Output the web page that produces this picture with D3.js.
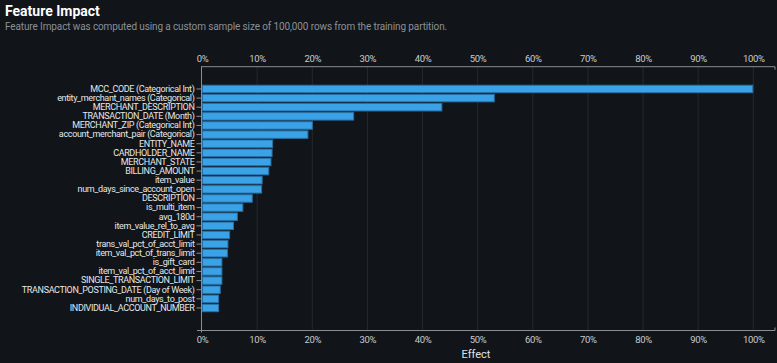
<!DOCTYPE html>
<html><head><meta charset="utf-8">
<script src="https://cdn.jsdelivr.net/npm/d3@7/dist/d3.min.js"></script>
<style>
html,body{margin:0;padding:0;background:#111418;}
svg{display:block;font-family:Roboto,"Noto Sans",sans-serif;}
</style></head>
<body><svg id="c" width="777" height="363"></svg>
<script>
const features = ["MCC_CODE (Categorical Int)","entity_merchant_names (Categorical)","MERCHANT_DESCRIPTION","TRANSACTION_DATE (Month)","MERCHANT_ZIP (Categorical Int)","account_merchant_pair (Categorical)","ENTITY_NAME","CARDHOLDER_NAME","MERCHANT_STATE","BILLING_AMOUNT","item_value","num_days_since_account_open","DESCRIPTION","is_multi_item","avg_180d","item_value_rel_to_avg","CREDIT_LIMIT","trans_val_pct_of_acct_limit","item_val_pct_of_trans_limit","is_gift_card","item_val_pct_of_acct_limit","SINGLE_TRANSACTION_LIMIT","TRANSACTION_POSTING_DATE (Day of Week)","num_days_to_post","INDIVIDUAL_ACCOUNT_NUMBER"];
const impact = [1.000,0.531,0.436,0.276,0.201,0.193,0.129,0.128,0.126,0.122,0.110,0.109,0.092,0.075,0.065,0.058,0.051,0.048,0.047,0.037,0.037,0.037,0.034,0.031,0.031];
const tickValues = [0,0.1,0.2,0.3,0.4,0.5,0.6,0.7,0.8,0.9,1.0];
const title = "Feature Impact";
const subtitle = "Feature Impact was computed using a custom sample size of 100,000 rows from the training partition.";
const xLabel = "Effect";

const svg = d3.select("#c");
const x0 = 202, x100 = 753.3, topY = 66.7, botY = 330.5;
const x = d3.scaleLinear().domain([0,1]).range([x0,x100]);
const y = d3.scaleBand().domain(features).range([84.4, 84.4 + 25*9.125]).paddingInner(0.07).paddingOuter(0.035);

svg.append("text").attr("x",5).attr("y",15.5).attr("fill","#ffffff").attr("font-size",14).attr("font-weight",700).text(title);
svg.append("text").attr("x",5).attr("y",30).attr("fill","#8b9097").attr("font-size",10).attr("letter-spacing",-0.12).text(subtitle);

// grid
svg.append("g").selectAll("line").data(tickValues.slice(1)).join("line")
  .attr("x1",d=>x(d)).attr("x2",d=>x(d)).attr("y1",topY).attr("y2",botY)
  .attr("stroke","#252a30").attr("stroke-width",1);

// top axis
const axTop = svg.append("g").attr("transform",`translate(0,${topY})`)
  .call(d3.axisTop(x).tickValues(tickValues).tickFormat(d3.format(".0%")).tickSize(0).tickPadding(5));
axTop.select(".domain").remove();
axTop.append("line").attr("x1",x0-1).attr("x2",775).attr("y1",0).attr("y2",0).attr("stroke","#8a8d91");
axTop.append("line").attr("x1",775).attr("x2",775).attr("y1",0).attr("y2",3).attr("stroke","#8a8d91");
axTop.selectAll("text").attr("fill","#c9ccd0").attr("font-size",9.5).attr("letter-spacing",-0.3).attr("font-family","Roboto,sans-serif");

// bottom axis
const axBot = svg.append("g").attr("transform",`translate(0,${botY})`)
  .call(d3.axisBottom(x).tickValues(tickValues).tickFormat(d3.format(".0%")).tickSize(0).tickPadding(6));
axBot.select(".domain").remove();
axBot.append("line").attr("x1",197).attr("x2",775).attr("y1",0).attr("y2",0).attr("stroke","#8a8d91");
axBot.append("line").attr("x1",775).attr("x2",775).attr("y1",0).attr("y2",-3).attr("stroke","#8a8d91");
axBot.selectAll("text").attr("fill","#c9ccd0").attr("font-size",9.5).attr("letter-spacing",-0.3).attr("font-family","Roboto,sans-serif");

// y axis
const axY = svg.append("g").attr("transform",`translate(${x0-0.5},0)`)
  .call(d3.axisLeft(y).tickSize(5).tickPadding(2));
axY.select(".domain").remove();
axY.append("line").attr("x1",0).attr("x2",0).attr("y1",topY).attr("y2",botY+2).attr("stroke","#8a8d91");
axY.selectAll(".tick line").attr("stroke","#8a8d91");
axY.selectAll("text").attr("fill","#e6e8ea").attr("font-size",9).attr("letter-spacing",-0.35).attr("font-family","Roboto,sans-serif");

// bars
svg.append("g").selectAll("rect").data(features).join("rect")
  .attr("x",x(0)+0.5).attr("y",d=>y(d)+0.5)
  .attr("width",(d,i)=>x(impact[i])-x(0)-1).attr("height",y.bandwidth()-1)
  .attr("fill","#3aa2e6").attr("stroke","#2a6fa3").attr("stroke-width",1);

svg.append("text").attr("x",476).attr("y",358).attr("text-anchor","middle").attr("fill","#e0e2e4").attr("font-size",11).text(xLabel);
</script></body></html>
